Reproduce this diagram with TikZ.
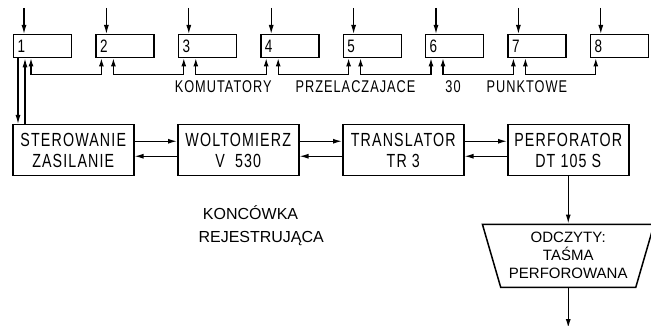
\documentclass[tikz,border=0pt]{standalone}
\usepackage{fontspec}
\setmainfont{Liberation Sans}
\newfontfamily\wask[FakeStretch=0.75, LetterSpace=6]{Liberation Sans}
\usetikzlibrary{arrows.meta, positioning, shapes.geometric, calc}

\tikzset{
  komut/.style={draw, line width=1.4pt, anchor=north west, minimum height=23pt,
                text width=50pt, inner xsep=4pt, inner ysep=0pt, align=left,
                font=\wask\fontsize{18}{18}\selectfont},
  blok/.style={draw, line width=1.5pt, anchor=north west, minimum width=121pt,
               minimum height=51pt, align=center, inner sep=2pt,
               font=\wask\fontsize{19}{21}\selectfont},
  strz/.style={-{Latex[length=9pt,width=5pt]}, line width=1.2pt},
  dwa/.style={{Latex[length=8pt,width=5pt]}-{Latex[length=8pt,width=5pt]}, line width=1.2pt},
}

\begin{document}
\begin{tikzpicture}[x=1pt, y=-1pt]
  \useasboundingbox (0,0) rectangle (651,326);

  % komutatory 1..8 z wejsciami od gory
  \foreach \i in {1,...,8} {
    \node[komut] (k\i) at ({13+82.4*(\i-1)}, 34) {\i};
    \coordinate (we\i) at ($(k\i.north west)+(11,-26)$);
    \draw[strz] (we\i) -- (we\i |- k\i.north);
  }

  % polaczenia miedzy komutatorami
  \foreach \i [evaluate=\i as \j using int(\i+1)] in {1,...,7} {
    \draw[dwa] ($(k\i.south west)+(18,0)$) -- ++(0,16) -| ($(k\j.south west)+(6,0)$);
  }
  \node[font=\wask\fontsize{17}{17}\selectfont] (opis) at (371,87)
    {KOMUTATORY\hspace{24pt}PRZELACZAJACE\hspace{30pt}30\hspace{26pt}PUNKTOWE};

  % bloki koncowki
  \node[blok] (ster) at (12,124) {STEROWANIE\\ZASILANIE};
  \node[blok] (wolt) at (177,124) {WOLTOMIERZ\\V\ \ 530};
  \node[blok] (trans) at (342,124) {TRANSLATOR\\TR 3};
  \node[blok] (perf) at (507,124) {PERFORATOR\\DT 105 S};

  \coordinate (a1) at ($(k1.south west)+(5,0)$);
  \coordinate (a2) at ($(k1.south west)+(12,0)$);
  \draw[strz] (a1) -- (a1 |- ster.north);
  \draw[strz] (a2 |- ster.north) -- (a2);

  \draw[strz] ([yshift=9pt]ster.east) -- ([yshift=9pt]wolt.west);
  \draw[strz] ([yshift=-6pt]wolt.west) -- ([yshift=-6pt]ster.east);
  \draw[strz] ([yshift=9pt]wolt.east) -- ([yshift=9pt]trans.west);
  \draw[strz] ([yshift=-6pt]trans.west) -- ([yshift=-6pt]wolt.east);
  \draw[strz] ([yshift=9pt]trans.east) -- ([yshift=9pt]perf.west);
  \draw[strz] ([yshift=-6pt]perf.west) -- ([yshift=-6pt]trans.east);

  % wyjscie - tasma
  \node[trapezium, trapezium stretches=true, shape border rotate=180,
        trapezium angle=71, minimum width=172pt, minimum height=63pt,
        draw, line width=1.5pt, align=center, inner sep=0pt,
        font=\fontsize{15}{18}\selectfont, below=47pt of perf] (tasma)
    {ODCZYTY:\\TAŚMA\\PERFOROWANA};
  \draw[strz] (perf.south) -- (tasma.north);
  \coordinate (wyj) at ($(tasma.south)+(0,40)$);
  \draw[strz] (tasma.south) -- (wyj);

  \node[anchor=west, align=left, font=\fontsize{16}{23}\selectfont] (konc) at (195,226)
    {\ KONCÓWKA\\REJESTRUJĄCA};
\end{tikzpicture}
\end{document}
